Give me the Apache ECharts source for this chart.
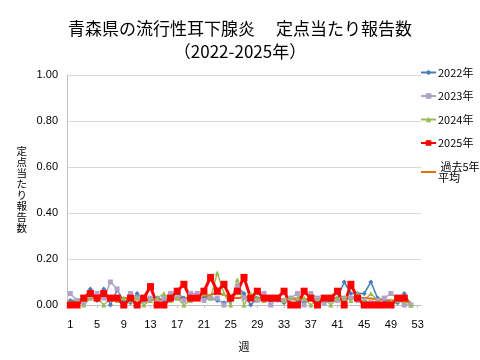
<!DOCTYPE html>
<html>
<head>
<meta charset="utf-8">
<script src="https://cdn.jsdelivr.net/npm/echarts@6/dist/echarts.min.js"></script>
<style>html,body{margin:0;padding:0;background:#fff}#c{width:480px;height:360px}</style>
</head>
<body>
<div id="c"></div>
<script>
var weeks = [];
for (var i = 1; i <= 53; i++) weeks.push(String(i));

var titleText = '青森県の流行性耳下腺炎　 定点当たり報告数\n（2022-2025年）';
var xAxisName = '週';
var yAxisName = '定点当たり報告数';
var seriesNames = ['2022年', '2023年', '2024年', '2025年', '過去5年平均'];

var y2022 = [0.02,0.02,0.03,0.07,0.02,0.07,0.00,0.065,0.02,0.01,0.05,0.02,0.02,0.03,0.02,0.04,0.05,0.03,0.02,0.03,0.03,0.03,0.02,0.01,0.02,0.08,0.05,0.00,0.03,0.03,0.02,0.02,0.01,0.03,0.02,0.01,0.03,0.02,0.01,0.02,0.03,0.10,0.05,0.05,0.05,0.10,0.03,0.02,0.01,0.01,0.05,0.00];
var y2023 = [0.05,0.02,0.01,0.03,0.05,0.03,0.10,0.07,0.00,0.05,0.03,0.02,0.03,0.01,0.03,0.05,0.03,0.02,0.05,0.05,0.02,0.03,0.03,0.00,0.03,0.08,0.03,0.03,0.02,0.05,0.00,0.03,0.02,0.03,0.05,0.00,0.05,0.03,0.01,0.03,0.02,0.03,0.03,0.02,0.02,0.01,0.02,0.03,0.05,0.03,0.00,0.00];
var y2024 = [0.01,0.02,0.00,0.03,0.03,0.00,0.03,0.02,0.03,0.02,0.03,0.00,0.02,0.03,0.05,0.02,0.03,0.00,0.02,0.03,0.05,0.03,0.14,0.05,0.00,0.11,0.00,0.05,0.03,0.02,0.03,0.03,0.02,0.03,0.03,0.03,0.00,0.02,0.03,0.00,0.03,0.03,0.02,0.05,0.02,0.05,0.02,0.00,0.02,0.02,0.02,0.00];
var y2025 = [0.00,0.00,0.03,0.05,0.03,0.05,0.03,0.03,0.00,0.03,0.00,0.03,0.08,0.00,0.00,0.03,0.06,0.09,0.03,0.03,0.06,0.12,0.06,0.09,0.03,0.06,0.12,0.03,0.06,0.03,0.03,0.03,0.06,0.00,0.00,0.06,0.03,0.00,0.03,0.03,0.06,0.00,0.09,0.03,0.00,0.00,0.00,0.00,0.00,0.03,0.03];
var yAvg = [0.010,0.015,0.020,0.030,0.030,0.030,0.030,0.030,0.030,0.030,0.028,0.025,0.025,0.025,0.025,0.027,0.030,0.030,0.030,0.030,0.035,0.045,0.050,0.045,0.035,0.030,0.035,0.035,0.030,0.028,0.028,0.025,0.025,0.025,0.025,0.025,0.025,0.025,0.028,0.030,0.030,0.035,0.035,0.030,0.030,0.028,0.025,0.022,0.020,0.018,0.015,0.012];

var chart = echarts.init(document.getElementById('c'));
var jp = '"Noto Sans CJK JP", "Noto Sans", sans-serif';
var num = '"Liberation Sans", "Noto Sans", sans-serif';

chart.setOption({
  animation: false,
  backgroundColor: '#ffffff',
  title: {
    text: titleText,
    left: 'center',
    top: 12,
    textStyle: { fontFamily: jp, fontSize: 17, fontWeight: 'normal', color: '#000', lineHeight: 23 }
  },
  legend: {
    orient: 'vertical',
    left: 420,
    top: 67,
    padding: 0,
    itemWidth: 15,
    itemHeight: 7,
    itemGap: 12.5,
    formatter: function (n) { return n === '過去5年平均' ? ' 過去5年\n平均' : n; },
    textStyle: { fontFamily: jp, fontSize: 11, color: '#000', padding: [0, 0, 0, -3] },
    data: [
      seriesNames[0], seriesNames[1], seriesNames[2], seriesNames[3],
      { name: seriesNames[4], itemStyle: { opacity: 0 } }
    ]
  },
  grid: { left: 67, right: 59, top: 75, bottom: 55 },
  xAxis: {
    type: 'category',
    data: weeks,
    boundaryGap: true,
    name: xAxisName,
    nameLocation: 'middle',
    nameGap: 36,
    nameTextStyle: { fontFamily: jp, fontSize: 11, color: '#000' },
    axisLine: { lineStyle: { color: '#bfbfbf' } },
    axisTick: { show: true, interval: 3, alignWithLabel: true, length: 3, lineStyle: { color: '#bfbfbf' } },
    axisLabel: { interval: 3, margin: 14, fontFamily: num, fontSize: 11, color: '#000' },
    splitLine: { show: false }
  },
  yAxis: {
    type: 'value',
    min: 0,
    max: 1,
    interval: 0.2,
    name: yAxisName.split('').join('\n'),
    nameLocation: 'middle',
    nameRotate: 0,
    nameGap: 40,
    nameTextStyle: { fontFamily: jp, fontSize: 10.5, lineHeight: 11, color: '#000' },
    axisLine: { show: true, lineStyle: { color: '#bfbfbf' } },
    axisTick: { show: false },
    axisLabel: { margin: 9, fontFamily: num, fontSize: 11, color: '#000', formatter: function (v) { return v.toFixed(2); } },
    splitLine: { lineStyle: { color: '#d9d9d9' } }
  },
  series: [
    { name: '2022年', type: 'line', data: y2022, symbol: 'diamond', symbolSize: 5, showAllSymbol: true,
      itemStyle: { color: '#4a7ebb' }, lineStyle: { color: '#4a7ebb', width: 1.5 } },
    { name: '2023年', type: 'line', data: y2023, symbol: 'rect', symbolSize: 5, showAllSymbol: true,
      itemStyle: { color: '#b3a2c7' }, lineStyle: { color: '#b3a2c7', width: 1.5 } },
    { name: '2024年', type: 'line', data: y2024, symbol: 'triangle', symbolSize: 5, showAllSymbol: true,
      itemStyle: { color: '#9bbb59' }, lineStyle: { color: '#9bbb59', width: 1.5 } },
    { name: '2025年', type: 'line', data: y2025, symbol: 'rect', symbolSize: 7, showAllSymbol: true,
      itemStyle: { color: '#ff0000' }, lineStyle: { color: '#ff0000', width: 3 } },
    { name: '過去5年平均', type: 'line', data: yAvg, symbol: 'none', smooth: 0.3,
      itemStyle: { color: '#e46c0a' }, lineStyle: { color: '#e46c0a', width: 2 } }
  ]
});
</script>
</body>
</html>
